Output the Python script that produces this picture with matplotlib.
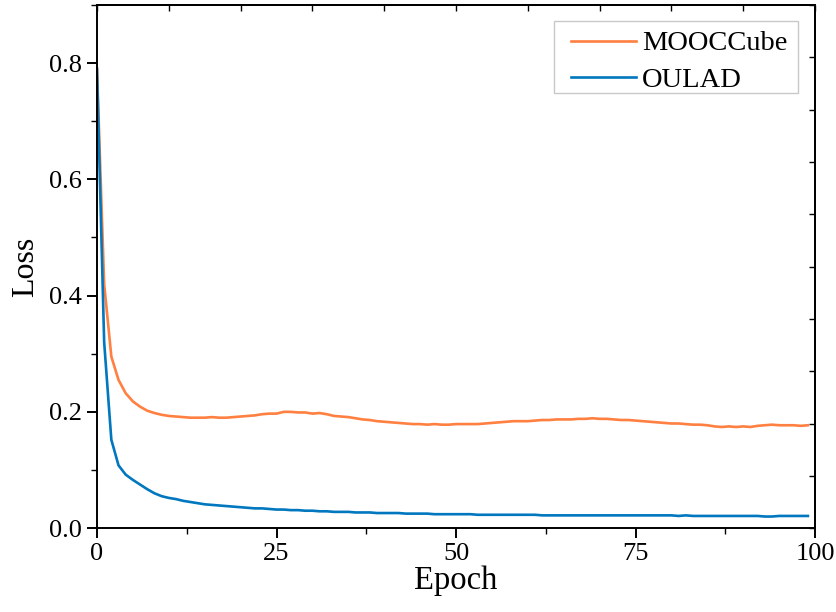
import numpy as np
import matplotlib
matplotlib.use("Agg")
import matplotlib.pyplot as plt
from matplotlib.patches import Rectangle
from matplotlib.ticker import MultipleLocator

# loss per epoch
epochs = list(range(100))

mooccube = [
    0.790, 0.420, 0.295, 0.255, 0.232, 0.218, 0.209, 0.202, 0.198, 0.195,
    0.193, 0.192, 0.191, 0.190, 0.190, 0.190, 0.191, 0.190, 0.190, 0.191,
    0.192, 0.193, 0.194, 0.196, 0.197, 0.197, 0.200, 0.200, 0.199, 0.199,
    0.197, 0.198, 0.196, 0.193, 0.192, 0.191, 0.189, 0.187, 0.186, 0.184,
    0.183, 0.182, 0.181, 0.180, 0.179, 0.179, 0.178, 0.179, 0.178, 0.178,
    0.179, 0.179, 0.179, 0.179, 0.180, 0.181, 0.182, 0.183, 0.184, 0.184,
    0.184, 0.185, 0.186, 0.186, 0.187, 0.187, 0.187, 0.188, 0.188, 0.189,
    0.188, 0.188, 0.187, 0.186, 0.186, 0.185, 0.184, 0.183, 0.182, 0.181,
    0.180, 0.180, 0.179, 0.178, 0.178, 0.177, 0.175, 0.174, 0.175, 0.174,
    0.175, 0.174, 0.176, 0.177, 0.178, 0.177, 0.177, 0.177, 0.176, 0.177,
]

oulad = [
    0.790, 0.320, 0.152, 0.108, 0.092, 0.083, 0.075, 0.067, 0.060, 0.055,
    0.052, 0.050, 0.047, 0.045, 0.043, 0.041, 0.040, 0.039, 0.038, 0.037,
    0.036, 0.035, 0.034, 0.034, 0.033, 0.032, 0.032, 0.031, 0.031, 0.030,
    0.030, 0.029, 0.029, 0.028, 0.028, 0.028, 0.027, 0.027, 0.027, 0.026,
    0.026, 0.026, 0.026, 0.025, 0.025, 0.025, 0.025, 0.024, 0.024, 0.024,
    0.024, 0.024, 0.024, 0.023, 0.023, 0.023, 0.023, 0.023, 0.023, 0.023,
    0.023, 0.023, 0.022, 0.022, 0.022, 0.022, 0.022, 0.022, 0.022, 0.022,
    0.022, 0.022, 0.022, 0.022, 0.022, 0.022, 0.022, 0.022, 0.022, 0.022,
    0.022, 0.021, 0.022, 0.021, 0.021, 0.021, 0.021, 0.021, 0.021, 0.021,
    0.021, 0.021, 0.021, 0.020, 0.020, 0.021, 0.021, 0.021, 0.021, 0.021,
]

plt.rcParams['font.family'] = ['Liberation Serif', 'DejaVu Serif']

fig = plt.figure(figsize=(8.36, 6.12), dpi=100)
ax = fig.add_axes([0.116, 0.137, 0.859, 0.855])

ax.plot(epochs, mooccube, color='#FF8040', lw=1.9, label='MOOCCube')
ax.plot(epochs, oulad, color='#0077BE', lw=1.9, label='OULAD')

ax.set_xlim(0, 100)
ax.set_ylim(0, 0.9)
ax.xaxis.set_major_locator(MultipleLocator(25))
ax.xaxis.set_minor_locator(MultipleLocator(12.5))
ax.yaxis.set_major_locator(MultipleLocator(0.2))
ax.yaxis.set_minor_locator(MultipleLocator(0.1))
ax.yaxis.set_major_formatter(plt.FormatStrFormatter('%.1f'))

for s in ax.spines.values():
    s.set_linewidth(1.4)
ax.tick_params(which='major', direction='out', length=7, width=1.4, labelsize=19, pad=4)
ax.tick_params(which='minor', direction='out', length=4, width=1.0)

# unlabeled inward ticks on the top and right frame
top = ax.secondary_xaxis('top')
top.set_xticks(np.arange(0, 101, 10))
top.tick_params(direction='in', length=4, width=1.0, labeltop=False)
top.spines['top'].set_linewidth(1.4)
right = ax.secondary_yaxis('right')
right.set_yticks(np.arange(0, 0.91, 0.09))
right.tick_params(direction='in', length=4, width=1.0, labelright=False)
right.spines['right'].set_linewidth(1.4)

ax.set_xlabel('Epoch', fontsize=23.5, labelpad=0)
ax.set_ylabel('Loss', fontsize=23, labelpad=6)

# legend without frame, box drawn separately (wider side padding than matplotlib allows)
ax.legend(loc='upper left', fontsize=20.5, frameon=False,
          handlelength=2.3, handletextpad=0.2, borderpad=0,
          labelspacing=0.37, borderaxespad=0, bbox_to_anchor=(0.66, 0.951))
ax.add_patch(Rectangle((0.6365, 0.8317), 0.3395, 0.1377, transform=ax.transAxes,
                       fill=False, edgecolor='#C8C8C8', lw=1.0, zorder=5))

fig.savefig('out.png', dpi=100)
